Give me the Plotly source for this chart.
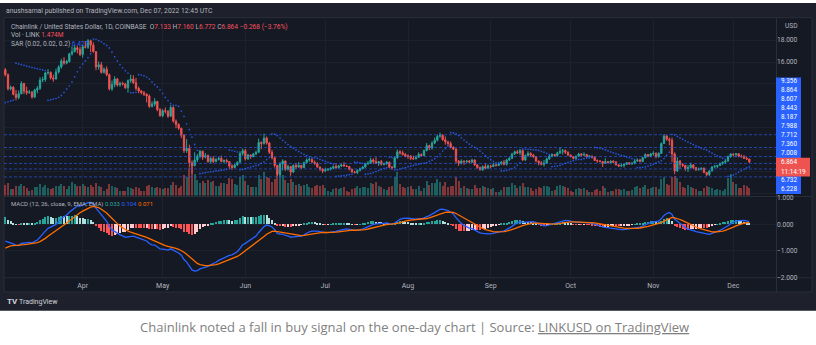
import pandas as pd
import plotly.graph_objects as go

W, H = 816, 345

# ---------------- data: LINK/USD daily candles, Coinbase ----------------
FIRST_DATE = "2022-03-03"
FIRST_OPEN = 15.30

CLOSE = [
    # Mar
    14.85, 13.55, 13.70, 13.05, 12.75, 13.10, 14.05, 13.35, 13.20, 13.25, 12.80, 13.45, 13.60, 14.35, 14.40,
    15.00, 15.05, 14.55, 14.45, 15.10, 15.55, 16.10, 15.90, 16.05, 16.75, 16.95, 17.30, 17.15, 16.70,
    # Apr
    17.40, 17.35, 17.95, 17.55, 16.95, 15.55, 15.75, 15.05, 15.35, 14.85, 13.55, 13.95, 14.45, 13.90, 14.05,
    14.00, 13.65, 14.30, 14.45, 14.10, 13.60, 13.35, 13.20, 13.05, 12.90, 11.95, 12.15, 12.40, 11.65, 11.10,
    # May
    11.55, 11.50, 11.05, 11.85, 10.60, 10.30, 9.95, 9.30, 7.90, 8.10, 6.80, 6.55, 7.05, 7.40, 7.85, 7.30,
    7.45, 6.90, 7.20, 6.90, 7.10, 7.20, 6.90, 7.00, 6.90, 6.50, 6.35, 6.60, 6.85, 7.65, 7.90,
    # Jun
    7.15, 7.50, 7.35, 7.60, 7.75, 8.65, 8.55, 9.05, 8.60, 7.75, 7.25, 6.55, 5.75, 6.70, 6.95,
    6.20, 6.45, 5.95, 6.55, 6.40, 6.55, 6.35, 6.80, 7.05, 7.10, 6.85, 6.70, 6.40, 6.20, 6.05,
    # Jul
    6.15, 6.20, 6.30, 6.45, 6.35, 6.50, 6.60, 6.50, 6.45, 6.20, 5.95, 5.90, 6.10, 6.25, 6.40, 6.70,
    6.75, 7.05, 6.90, 6.75, 6.90, 6.65, 6.70, 6.85, 6.40, 6.35, 7.25, 7.80, 7.70, 7.55, 7.40,
    # Aug
    7.40, 7.20, 7.15, 7.30, 7.55, 7.45, 7.90, 8.35, 8.15, 8.60, 8.85, 9.20, 9.30, 8.90, 8.70, 8.55,
    8.20, 8.05, 6.95, 6.75, 6.95, 6.90, 6.95, 6.85, 7.05, 6.60, 6.35, 6.15, 6.45, 6.30, 6.50,
    # Sep
    6.45, 6.60, 6.55, 6.70, 6.85, 6.65, 7.05, 7.20, 7.60, 7.80, 7.70, 7.90, 7.05, 7.45, 7.65,
    7.50, 7.35, 6.95, 6.80, 6.65, 6.75, 7.15, 7.40, 7.55, 7.45, 7.70, 7.85, 7.90, 7.75, 7.50,
    # Oct
    7.35, 7.20, 7.40, 7.60, 7.50, 7.55, 7.35, 7.40, 7.30, 7.00, 6.95, 6.90, 6.75, 6.90, 6.80, 6.95,
    6.85, 6.60, 6.50, 6.55, 6.65, 6.80, 6.70, 6.75, 6.95, 7.05, 6.90, 7.25, 7.55, 7.40, 7.60,
    # Nov
    7.65, 7.35, 7.65, 8.55, 9.25, 8.95, 8.85, 7.60, 6.05, 6.95, 6.65, 6.55, 6.25, 6.35, 6.60,
    6.35, 6.15, 6.20, 6.30, 5.90, 5.70, 6.05, 6.40, 6.45, 6.55, 6.75, 6.85, 6.95, 7.35, 7.60,
    # Dec
    7.55, 7.62, 7.40, 7.35, 7.20, 7.133, 6.864,
]

HIGH = [
    15.45, 14.95, 13.85, 13.80, 13.45, 13.40, 14.25, 14.10, 13.75, 13.45, 13.35, 13.55, 13.80, 14.60, 14.65,
    15.10, 15.35, 15.15, 14.85, 15.40, 15.70, 16.30, 16.45, 16.20, 16.85, 17.45, 17.55, 17.50, 17.40,
    17.55, 17.90, 18.10, 18.05, 17.80, 17.00, 16.05, 16.00, 15.50, 15.60, 14.95, 14.30, 14.70, 14.55, 14.20,
    14.20, 14.10, 14.40, 14.85, 14.80, 14.55, 13.75, 13.45, 13.35, 13.15, 13.05, 12.40, 12.70, 12.45, 11.80,
    11.70, 11.85, 11.60, 12.05, 11.95, 10.75, 10.40, 10.00, 9.40, 8.95, 8.45, 7.00, 7.75, 7.60, 7.95, 7.90,
    7.70, 7.55, 7.30, 7.40, 7.20, 7.35, 7.45, 7.10, 7.15, 6.95, 6.65, 6.70, 6.90, 7.85, 8.10,
    8.05, 7.60, 7.55, 7.70, 7.90, 9.00, 8.75, 9.45, 9.20, 8.70, 7.95, 7.30, 6.60, 6.85, 7.10,
    7.00, 6.60, 6.50, 6.65, 6.75, 6.85, 6.60, 6.90, 7.20, 7.25, 7.20, 7.00, 6.85, 6.45, 6.30,
    6.35, 6.30, 6.40, 6.55, 6.70, 6.60, 6.70, 6.85, 6.60, 6.50, 6.25, 6.05, 6.20, 6.35, 6.50, 6.80,
    6.95, 7.25, 7.20, 7.30, 6.95, 7.05, 6.80, 6.95, 6.90, 6.50, 7.35, 8.00, 7.95, 7.90, 7.70,
    7.55, 7.50, 7.45, 7.45, 7.75, 7.65, 8.00, 8.60, 8.45, 8.75, 9.10, 9.35, 9.55, 9.40, 9.20, 8.80,
    8.75, 8.30, 8.10, 7.05, 7.10, 7.00, 7.05, 7.05, 7.15, 7.10, 6.65, 6.45, 6.55, 6.70, 6.65,
    6.60, 6.80, 6.70, 6.75, 6.95, 7.05, 7.15, 7.35, 7.70, 7.90, 7.95, 8.05, 8.00, 7.55, 7.85,
    7.75, 7.60, 7.40, 7.00, 6.95, 7.05, 7.25, 7.50, 7.65, 7.60, 7.80, 8.20, 8.05, 8.00, 7.85,
    7.55, 7.40, 7.45, 7.70, 7.65, 7.75, 7.60, 7.50, 7.45, 7.35, 7.10, 7.05, 6.95, 7.20, 6.95, 7.00,
    7.00, 6.95, 6.65, 6.70, 6.75, 6.85, 6.85, 6.85, 7.05, 7.20, 7.15, 7.35, 7.65, 7.60, 7.70,
    7.85, 7.75, 7.75, 8.65, 9.40, 9.35, 9.10, 9.10, 7.75, 7.30, 7.05, 6.75, 6.60, 6.60, 6.80,
    6.65, 6.40, 6.35, 6.35, 6.35, 5.95, 6.10, 6.50, 6.60, 6.60, 6.80, 6.90, 7.05, 7.45, 7.64,
    7.65, 7.66, 7.65, 7.55, 7.50, 7.35, 7.160,
]

LOW = [
    14.70, 13.40, 13.40, 12.95, 12.50, 12.60, 13.05, 13.05, 13.00, 13.10, 12.65, 12.70, 13.15, 13.45, 14.15,
    14.20, 14.85, 14.40, 14.20, 14.40, 14.95, 15.40, 15.75, 15.80, 15.95, 16.60, 16.90, 16.80, 16.55,
    16.40, 17.25, 17.20, 16.90, 16.85, 15.25, 15.30, 14.95, 14.95, 14.70, 13.40, 13.35, 13.70, 13.75, 13.75,
    13.85, 13.55, 13.20, 14.10, 14.00, 13.40, 13.15, 13.05, 12.90, 12.30, 11.80, 11.85, 11.95, 11.50, 11.00,
    10.95, 11.30, 10.90, 11.00, 10.45, 9.95, 9.80, 9.05, 7.70, 7.70, 6.35, 5.80, 6.45, 6.85, 7.20, 7.05,
    7.20, 6.80, 6.75, 6.75, 6.85, 7.00, 6.85, 6.75, 6.80, 6.20, 6.15, 6.30, 6.50, 6.80, 7.45,
    7.00, 7.05, 7.15, 7.30, 7.50, 7.70, 8.05, 8.45, 8.45, 7.60, 7.10, 6.35, 5.55, 5.55, 6.10,
    6.05, 6.10, 5.60, 5.85, 6.20, 6.35, 6.20, 6.30, 6.75, 6.90, 6.80, 6.60, 6.35, 6.05, 5.85,
    5.95, 6.05, 6.10, 6.20, 6.25, 6.25, 6.40, 6.45, 6.40, 6.10, 5.90, 5.80, 5.75, 6.00, 6.20, 6.35,
    6.60, 6.70, 6.70, 6.70, 6.50, 6.55, 6.55, 6.60, 6.30, 6.15, 6.30, 7.15, 7.55, 7.45, 7.30,
    7.15, 7.05, 7.05, 7.10, 7.25, 7.40, 7.40, 7.85, 7.95, 8.00, 8.50, 8.75, 9.10, 8.80, 8.45, 8.35,
    8.10, 7.95, 6.75, 6.50, 6.65, 6.60, 6.75, 6.75, 6.80, 6.50, 6.25, 6.10, 6.05, 6.20, 6.25,
    6.30, 6.40, 6.45, 6.50, 6.60, 6.55, 6.55, 6.95, 7.15, 7.50, 7.60, 7.50, 6.95, 6.95, 7.35,
    7.30, 7.25, 6.85, 6.55, 6.55, 6.45, 6.70, 7.05, 7.30, 7.35, 7.35, 7.60, 7.55, 7.60, 7.40,
    7.30, 7.10, 7.10, 7.35, 7.35, 7.40, 7.25, 7.30, 7.25, 6.95, 6.80, 6.85, 6.40, 6.70, 6.75, 6.75,
    6.75, 6.55, 6.40, 6.40, 6.35, 6.60, 6.60, 6.60, 6.65, 6.90, 6.85, 6.85, 7.20, 7.30, 7.30,
    7.45, 7.20, 7.25, 7.60, 8.50, 8.80, 8.40, 6.85, 5.75, 5.95, 6.25, 6.40, 6.05, 5.95, 6.30,
    6.20, 6.05, 6.10, 6.10, 5.85, 5.55, 5.60, 6.00, 6.35, 6.30, 6.50, 6.60, 6.70, 6.90, 7.25,
    7.35, 7.30, 7.30, 7.25, 7.15, 7.05, 6.772,
]

VOLUME_M = [
    2.1, 2.4, 1.3, 1.2, 1.9, 1.8, 2.3, 1.9, 1.5, 0.9, 1.1, 1.7, 1.6, 2.2, 1.7,
    2.0, 1.4, 1.3, 1.5, 1.9, 1.8, 2.3, 1.9, 1.2, 1.8, 2.6, 2.2, 1.9, 1.8,
    2.3, 1.8, 1.6, 2.1, 1.7, 2.5, 1.9, 1.6, 1.0, 1.2, 2.2, 1.9, 1.6, 1.5, 1.0,
    0.9, 1.0, 1.6, 1.4, 1.3, 1.6, 1.5, 0.9, 1.0, 1.9, 2.1, 1.6, 1.5, 1.6, 1.4,
    1.3, 1.5, 1.4, 2.0, 2.6, 2.0, 1.4, 1.8, 3.9, 3.6, 5.2, 5.7, 4.1, 2.9, 2.4, 2.8,
    2.5, 3.0, 2.6, 2.7, 1.9, 1.8, 2.5, 2.4, 2.2, 3.4, 3.1, 2.2, 2.0, 3.6, 3.9,
    2.8, 2.1, 1.7, 1.6, 1.7, 3.9, 3.2, 4.4, 3.6, 3.3, 2.6, 3.1, 4.6, 4.3, 3.9,
    3.0, 2.4, 3.2, 2.6, 2.1, 2.2, 1.8, 2.0, 2.3, 1.7, 1.5, 1.8, 2.0, 1.9, 2.1,
    1.4, 0.9, 0.8, 1.2, 1.5, 1.3, 1.4, 1.6, 0.9, 0.8, 1.3, 1.4, 1.8, 1.5, 1.6, 1.7,
    1.5, 2.4, 2.2, 2.6, 1.9, 1.7, 1.2, 1.1, 1.6, 1.8, 3.6, 4.4, 2.3, 1.6, 1.5,
    1.7, 1.9, 1.3, 1.2, 1.8, 1.0, 1.4, 2.7, 2.1, 2.4, 2.5, 3.2, 2.6, 1.9, 2.6, 1.7,
    1.8, 1.9, 3.5, 2.7, 1.5, 1.8, 1.4, 1.2, 1.3, 2.0, 1.5, 1.4, 1.8, 1.6, 1.5,
    1.3, 1.5, 0.8, 0.8, 1.1, 1.6, 1.7, 1.7, 2.4, 2.0, 1.5, 1.9, 2.5, 1.6, 1.7,
    1.4, 1.0, 1.3, 1.6, 1.5, 1.8, 1.9, 1.6, 1.0, 1.1, 1.8, 2.0, 1.8, 1.6, 1.5,
    0.9, 0.8, 1.2, 1.4, 1.3, 1.5, 1.1, 0.8, 0.7, 1.1, 1.2, 1.0, 1.9, 1.5, 0.8, 0.9,
    1.0, 1.3, 1.2, 1.1, 1.3, 1.0, 0.9, 1.1, 1.6, 1.8, 1.4, 1.7, 2.0, 1.3, 1.5,
    1.6, 1.7, 1.3, 3.1, 3.6, 2.2, 2.0, 3.6, 3.8, 3.4, 2.6, 1.6, 1.5, 2.0, 1.7,
    1.5, 1.3, 1.0, 0.9, 1.4, 1.8, 1.6, 1.5, 1.1, 1.2, 1.1, 1.0, 1.3, 3.4, 4.1,
    2.6, 2.2, 1.5, 1.4, 2.0, 1.8, 1.474,
]

# horizontal levels drawn on the chart, and the tags stacked on the price scale
HLINE_LEVELS = [9.356, 8.187, 7.360, 6.732, 6.228, 5.50]
LEVEL_TAGS = ["9.356", "8.864", "8.607", "8.443", "8.187", "7.988", "7.712", "7.360", "7.008", "6.732", "6.228"]
COUNTDOWN = "11:14:19"

MONTH_TICKS = ["2022-04-01", "2022-05-01", "2022-06-01", "2022-07-01", "2022-08-01",
               "2022-09-01", "2022-10-01", "2022-11-01", "2022-12-01"]
MONTH_LABELS = ["Apr", "May", "Jun", "Jul", "Aug", "Sep", "Oct", "Nov", "Dec"]
PRICE_TICKS = [4, 6, 8, 10, 12, 14, 16, 18]
PRICE_TICK_TEXT = ["", "", "", "", "", "", "16.000", "18.000"]
MACD_TICKS = [-2, -1, 0, 1]
MACD_TICK_TEXT = ["\u22122.000", "\u22121.000", "0.000", "1.000"]

# indicator state carried in from the bars before the first one shown
EMA_FAST_SEED, EMA_SLOW_SEED, SIGNAL_SEED = 14.6, 15.3, -0.96
SAR_SEED, SAR_EP_SEED = 12.3, 15.9

# ---------------- indicators ----------------
dates = pd.date_range(FIRST_DATE, periods=len(CLOSE), freq="D")
opens = [FIRST_OPEN] + CLOSE[:-1]


def ema(values, seed, n):
    a = 2.0 / (n + 1)
    out, e = [], seed
    for v in values:
        e = e + a * (v - e)
        out.append(e)
    return out


fast = ema(CLOSE, EMA_FAST_SEED, 12)
slow = ema(CLOSE, EMA_SLOW_SEED, 26)
macd = [f - s for f, s in zip(fast, slow)]
signal = ema(macd, SIGNAL_SEED, 9)
hist = [m - s for m, s in zip(macd, signal)]


def parabolic_sar(high, low, seed, ep, start=0.02, inc=0.02, mx=0.2):
    up, sar, af = True, seed, start
    out = [sar]
    for i in range(1, len(high)):
        sar = sar + af * (ep - sar)
        j = max(i - 2, 0)
        if up:
            sar = min(sar, low[i - 1], low[j])
            if low[i] < sar:
                up, sar, ep, af = False, ep, low[i], start
            elif high[i] > ep:
                ep, af = high[i], min(af + inc, mx)
        else:
            sar = max(sar, high[i - 1], high[j])
            if high[i] > sar:
                up, sar, ep, af = True, ep, high[i], start
            elif low[i] < ep:
                ep, af = low[i], min(af + inc, mx)
        out.append(sar)
    return out


sar = parabolic_sar(HIGH, LOW, SAR_SEED, SAR_EP_SEED)

# ---------------- styling ----------------
UP, DOWN = "#26a69a", "#ef5350"
BG_OUT, BG_CHART, SEP, GRID = "#1e212b", "#151924", "#2a2e39", "#1d212c"
TXT = "#b2b5be"
FONT = "Roboto"
DAY_MS = 86400000

vol_colors = ["rgba(38,166,154,0.5)" if c >= o else "rgba(239,83,80,0.5)" for o, c in zip(opens, CLOSE)]
hist_colors = []
for i, h in enumerate(hist):
    prev = hist[i - 1] if i else h
    if h >= 0:
        hist_colors.append("#26a69a" if h >= prev else "#b2dfdb")
    else:
        hist_colors.append("#ffcdd2" if h >= prev else "#ff5252")


def px(x):
    return x / W


def py(y):
    return 1 - y / H


fig = go.Figure()
fig.add_trace(go.Bar(x=dates, y=VOLUME_M, yaxis="y", marker=dict(color=vol_colors, line_width=0),
                     width=0.78 * DAY_MS))
fig.add_trace(go.Candlestick(
    x=dates, open=opens, high=HIGH, low=LOW, close=CLOSE, yaxis="y2", whiskerwidth=0,
    increasing=dict(line=dict(color=UP, width=1), fillcolor=UP),
    decreasing=dict(line=dict(color=DOWN, width=1), fillcolor=DOWN)))
fig.add_trace(go.Scatter(x=dates, y=sar, yaxis="y2", mode="markers",
                         marker=dict(size=1.7, color="rgba(41,98,255,0.85)", line_width=0)))
fig.add_trace(go.Bar(x=dates, y=hist, yaxis="y3", marker=dict(color=hist_colors, line_width=0),
                     width=0.78 * DAY_MS))
fig.add_trace(go.Scatter(x=dates, y=macd, yaxis="y3", mode="lines", line=dict(color="#2962ff", width=1.3)))
fig.add_trace(go.Scatter(x=dates, y=signal, yaxis="y3", mode="lines", line=dict(color="#ff6d00", width=1.3)))

X0, X1 = 4, 776
shapes = [
    dict(type="rect", xref="paper", yref="paper", x0=0, x1=1, y0=py(314), y1=1,
         fillcolor=BG_OUT, line_width=0, layer="below"),
    dict(type="rect", xref="paper", yref="paper", x0=px(4), x1=px(812), y0=py(295), y1=py(15),
         fillcolor=BG_CHART, line=dict(color=SEP, width=1), layer="below"),
    dict(type="line", xref="paper", yref="paper", x0=px(4), x1=px(812), y0=py(197.5), y1=py(197.5),
         line=dict(color=SEP, width=1), layer="below"),
    dict(type="line", xref="paper", yref="paper", x0=px(4), x1=px(812), y0=py(280.5), y1=py(280.5),
         line=dict(color=SEP, width=1), layer="below"),
    dict(type="line", xref="paper", yref="paper", x0=px(776.5), x1=px(776.5), y0=py(295), y1=py(15),
         line=dict(color=SEP, width=1), layer="below"),
    dict(type="line", xref="paper", yref="y3", x0=px(X0), x1=px(X1), y0=0, y1=0,
         line=dict(color="rgba(120,123,134,0.5)", width=1, dash="3px,3px"), layer="below"),
]
for lv in HLINE_LEVELS:
    shapes.append(dict(type="line", xref="paper", yref="y2", x0=px(X0), x1=px(X1), y0=lv, y1=lv,
                       line=dict(color="rgba(41,98,255,0.6)", width=1, dash="3px,2px")))
# price-scale tags
shapes.append(dict(type="rect", xref="paper", yref="paper", x0=px(776), x1=px(801), y0=py(195), y1=py(76),
                   fillcolor="#2962ff", line_width=0, layer="above"))
shapes.append(dict(type="rect", xref="paper", yref="paper", x0=px(776), x1=px(810), y0=py(177), y1=py(158),
                   fillcolor="#ef5350", line_width=0, layer="above"))

ann = []


def text(x, y, s, size=6.6, color=TXT, anchor="left", family=FONT):
    ann.append(dict(x=px(x), y=py(y), xref="paper", yref="paper", text=s, showarrow=False,
                    xanchor=anchor, yanchor="middle", font=dict(family=family, size=size, color=color)))


RED_T = "#f7525f"
text(4, 8, "anushsamal published on TradingView.com, Dec 07, 2022 12:45 UTC", 6.8)
text(9, 24, "Chainlink / United States Dollar, 1D, COINBASE  "
     f"O<span style='color:{RED_T}'>{opens[-1]:.3f}</span> "
     f"H<span style='color:{RED_T}'>{HIGH[-1]:.3f}</span> "
     f"L<span style='color:{RED_T}'>{LOW[-1]:.3f}</span> "
     f"C<span style='color:{RED_T}'>{CLOSE[-1]:.3f}</span> "
     f"<span style='color:{RED_T}'>\u22120.268 (\u22123.76%)</span>", 6.6)
text(9, 33, f"Vol · LINK <span style='color:{RED_T}'>{VOLUME_M[-1]:.3f}M</span>", 6.6)
text(9, 42, f"SAR (0.02, 0.02, 0.2) <span style='color:#2962ff'>{sar[-1]:.3f}</span>", 6.6)
text(9, 205, "MACD (12, 26, close, 9, EMA, EMA) "
     f"<span style='color:#26a69a'>{hist[-1]:.3f}</span> "
     f"<span style='color:#2962ff'>{macd[-1]:.3f}</span> "
     f"<span style='color:#ff6d00'>{signal[-1]:.3f}</span>", 6.0)
text(783, 23, "USD", 6.6)

tag_y = [80, 89, 98, 107.5, 116.5, 125.5, 134.5, 143.5, 153, 181, 190]
for s, yy in zip(LEVEL_TAGS, tag_y):
    text(778.5, yy, s, 6.4, "#ffffff")
text(778.5, 162.5, f"{CLOSE[-1]:.3f}", 6.4, "#ffffff")
text(778.5, 172, COUNTDOWN, 6.4, "#ffffff")

text(5, 305, "<b>TV</b>", 8, "#d1d4dc")
text(17, 305, "TradingView", 7, "#d1d4dc")

ann.append(dict(x=px(414), y=py(331), xref="paper", yref="paper", showarrow=False, xanchor="center",
                yanchor="middle",
                text="Chainlink noted a fall in buy signal on the one-day chart | Source: "
                     "<span style='text-decoration:underline'>LINKUSD on TradingView</span>",
                font=dict(family="Open Sans", size=13, color="#808080")))

fig.update_layout(
    width=W, height=H, margin=dict(l=0, r=0, t=0, b=0),
    paper_bgcolor="#ffffff", plot_bgcolor="rgba(0,0,0,0)",
    showlegend=False, hovermode=False, bargap=0,
    shapes=shapes, annotations=ann,
    xaxis=dict(domain=[px(X0), px(X1)], range=["2022-03-02 12:00", "2022-12-17"], anchor="y3",
               rangeslider=dict(visible=False), showgrid=True, gridcolor=GRID, gridwidth=1,
               tickvals=MONTH_TICKS, ticktext=MONTH_LABELS, ticks="", showline=False, zeroline=False,
               ticklabelstandoff=3, tickfont=dict(family=FONT, size=7, color=TXT)),
    yaxis=dict(domain=[py(196.5), py(17)], range=[0, 33], visible=False, fixedrange=True),
    yaxis2=dict(domain=[py(196.5), py(17)], range=[3.80, 19.875], overlaying="y", side="right", anchor="x",
                tickvals=PRICE_TICKS, ticktext=PRICE_TICK_TEXT, showgrid=True, gridcolor=GRID,
                zeroline=False, showline=False, ticks="", tickfont=dict(family=FONT, size=6.6, color=TXT)),
    yaxis3=dict(domain=[py(280), py(198)], range=[-2.0, 1.037], side="right", anchor="x",
                tickvals=MACD_TICKS, ticktext=MACD_TICK_TEXT, showgrid=True, gridcolor=GRID,
                zeroline=False, showline=False, ticks="", tickfont=dict(family=FONT, size=6.6, color=TXT)),
)

fig.write_html("out.html")
